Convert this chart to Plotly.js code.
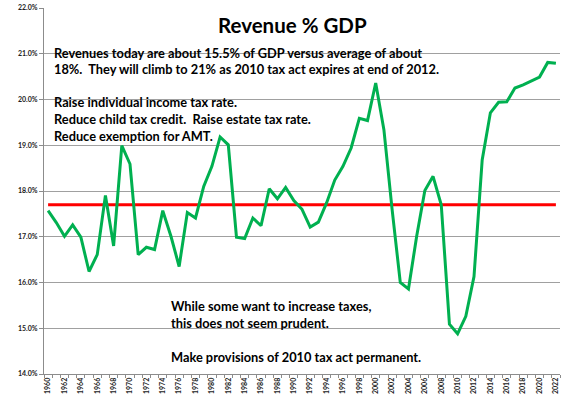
<!DOCTYPE html>
<html>
<head>
<meta charset="utf-8">
<script src="https://cdn.plot.ly/plotly-3.0.1.min.js"></script>
<style>html,body{margin:0;padding:0;background:#fff}#chart{width:567px;height:399px}</style>
</head>
<body>
<div id="chart"></div>
<script>
var years = [1960,1961,1962,1963,1964,1965,1966,1967,1968,1969,1970,1971,1972,1973,1974,1975,1976,1977,1978,1979,1980,1981,1982,1983,1984,1985,1986,1987,1988,1989,1990,1991,1992,1993,1994,1995,1996,1997,1998,1999,2000,2001,2002,2003,2004,2005,2006,2007,2008,2009,2010,2011,2012,2013,2014,2015,2016,2017,2018,2019,2020,2021,2022];
var revenue = [17.57,17.31,17.01,17.26,16.99,16.24,16.61,17.90,16.80,18.99,18.59,16.61,16.77,16.72,17.57,17.01,16.35,17.53,17.41,18.10,18.54,19.18,19.01,16.99,16.96,17.41,17.24,18.05,17.83,18.08,17.79,17.60,17.21,17.32,17.74,18.24,18.54,18.94,19.59,19.54,20.36,19.34,17.60,16.00,15.86,17.01,18.01,18.32,17.70,15.09,14.88,15.26,16.13,18.68,19.71,19.94,19.95,20.25,20.32,20.40,20.49,20.81,20.79];
var avgYears = [1960, 2022];
var avgValues = [17.7, 17.7];
var yTicks = [14,15,16,17,18,19,20,21,22];
var xTicks = [1960,1962,1964,1966,1968,1970,1972,1974,1976,1978,1980,1982,1984,1986,1988,1990,1992,1994,1996,1998,2000,2002,2004,2006,2008,2010,2012,2014,2016,2018,2020,2022];

var titleText = "Revenue % GDP";
var noteLines = [
  "Revenues today are about 15.5% of GDP versus average of about",
  "18%.  They will climb to 21% as 2010 tax act expires at end of 2012.",
  "Raise individual income tax rate.",
  "Reduce child tax credit.  Raise estate tax rate.",
  "Reduce exemption for AMT.",
  "While some want to increase taxes,",
  "this does not seem prudent.",
  "Make provisions of 2010 tax act permanent."
];

var W = 567, H = 399, ML = 44, MR = 7, MT = 8, MB = 25;
var PW = W - ML - MR, PH = H - MT - MB;
function px(x){ return (x - ML) / PW; }
function py(y){ return (H - MB - y) / PH; }

var noteX = [52,52,52,52,52,169,169,169];
var noteY = [53,69,102,119,136,306,323,357];

var FONT = "Lato, 'Open Sans', sans-serif";
var annotations = [{
  text: titleText, xref:'paper', yref:'paper', x: px(216), y: py(25),
  xanchor:'left', yanchor:'middle', showarrow:false,
  font:{family:FONT, size:20.5, color:'#000', weight:'bold'}
}];
for (var i = 0; i < noteLines.length; i++) {
  annotations.push({
    text: noteLines[i], xref:'paper', yref:'paper', x: px(noteX[i]), y: py(noteY[i]),
    xanchor:'left', yanchor:'middle', showarrow:false,
    font:{family:FONT, size:12.8, color:'#000', weight:'bold'}
  });
}

var traces = [
  {x: avgYears, y: avgValues, type:'scatter', mode:'lines', line:{color:'#FF0000', width:3}, hoverinfo:'skip'},
  {x: years, y: revenue, type:'scatter', mode:'lines', line:{color:'#00B050', width:3}}
];

var layout = {
  width: W, height: H,
  margin: {l:ML, r:MR, t:MT, b:MB, pad:0},
  paper_bgcolor:'#fff', plot_bgcolor:'#fff',
  showlegend:false,
  xaxis: {
    range:[1959.5, 2022.5], tickmode:'array', tickvals:xTicks, ticktext:xTicks.map(String),
    tickangle:-90, ticks:'', showgrid:false, zeroline:false,
    showline:true, linecolor:'#8c8c8c', linewidth:1,
    tickfont:{family:FONT, size:7, color:'#222', weight:'bold'},
    minor:{tickmode:'linear', tick0:1959.5, dtick:1, ticks:'outside', ticklen:3, tickcolor:'#8c8c8c', showgrid:false}
  },
  yaxis: {
    range:[14,22], tickmode:'array', tickvals:yTicks, ticktext:yTicks.map(function(v){return v.toFixed(1)+'%';}),
    ticks:'outside', ticklen:4, tickcolor:'#8c8c8c',
    showgrid:true, gridcolor:'#a0a0a0', gridwidth:1, zeroline:false,
    showline:true, linecolor:'#8c8c8c', linewidth:1,
    tickfont:{family:FONT, size:7, color:'#222', weight:'bold'}
  },
  annotations: annotations
};

Plotly.newPlot('chart', traces, layout, {staticPlot:true, displayModeBar:false});
</script>
</body>
</html>
